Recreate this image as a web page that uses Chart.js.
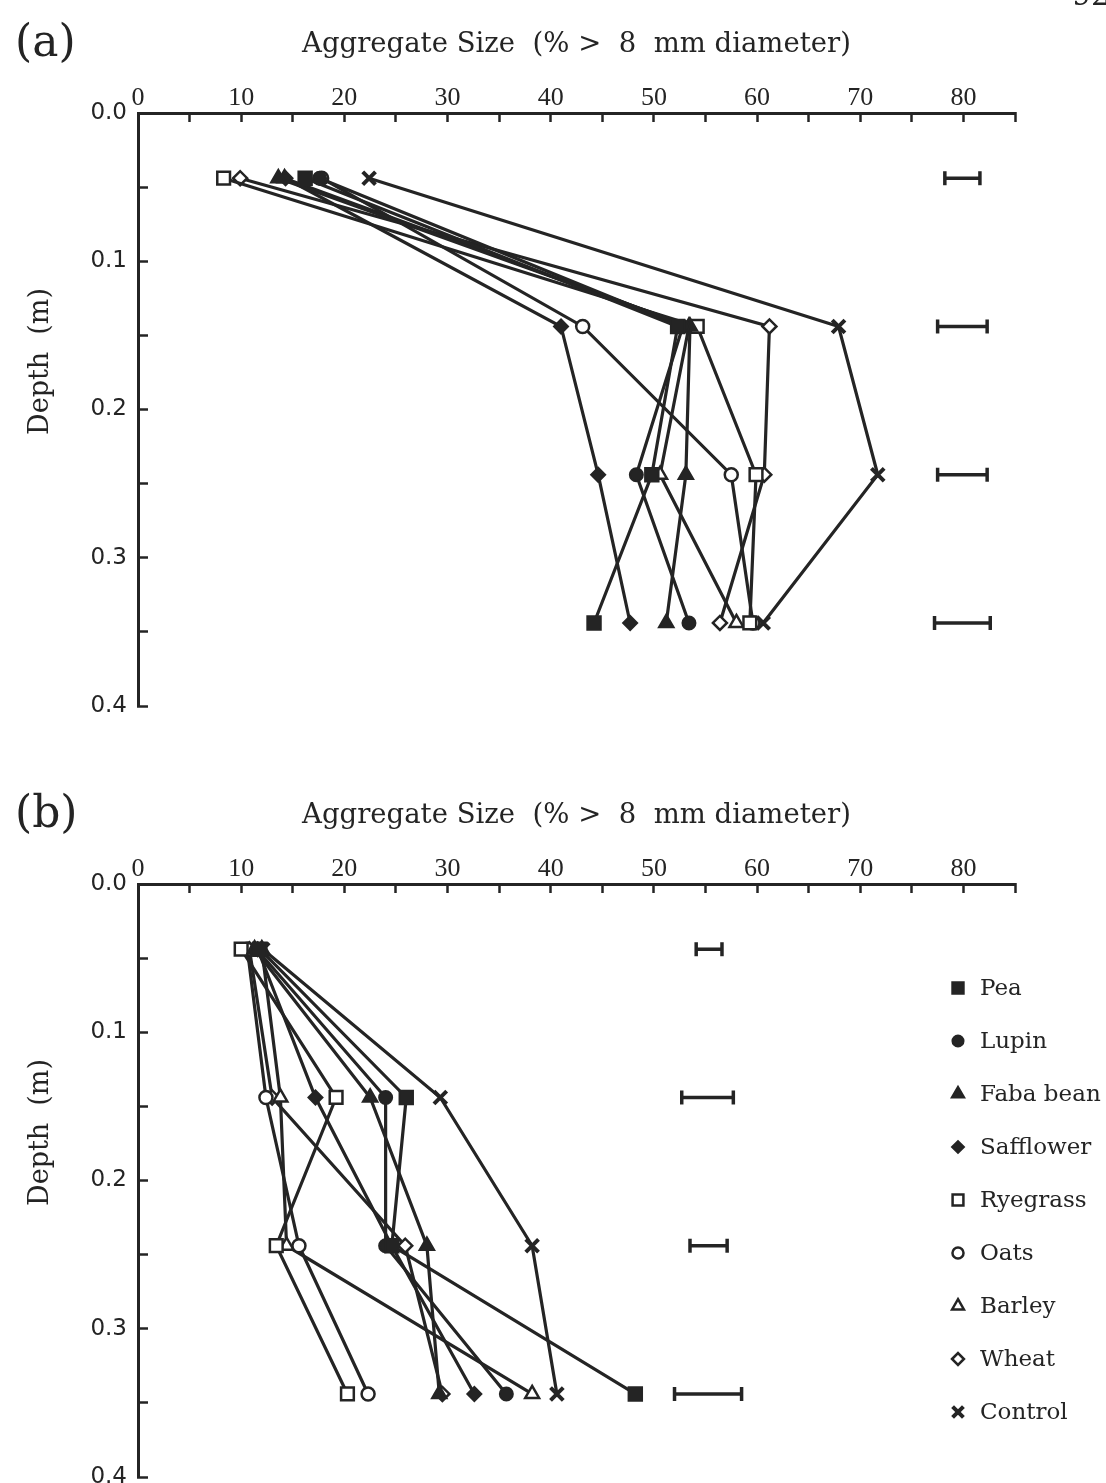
<!DOCTYPE html>
<html>
<head>
<meta charset="utf-8">
<script src="https://cdn.jsdelivr.net/npm/chart.js@4.4.0/dist/chart.umd.min.js"></script>
<style>
  html, body { margin: 0; padding: 0; background: #fff; }
  body { width: 1106px; height: 1483px; position: relative; overflow: hidden; }
  .panel { position: absolute; left: 0; width: 1106px; height: 741px; }
  #wrapA { top: 0; }
  #wrapB { top: 771px; }
</style>
</head>
<body>
<div class="panel" id="wrapA"><canvas id="chartA" width="1106" height="741"></canvas></div>
<div class="panel" id="wrapB"><canvas id="chartB" width="1106" height="741"></canvas></div>
<script>
// depth of each sampling layer (m)
const depths = [0.044, 0.144, 0.244, 0.344];
const crops = ['Pea', 'Lupin', 'Faba bean', 'Safflower', 'Ryegrass', 'Oats', 'Barley', 'Wheat', 'Control'];

// (a) aggregate size, % > 8 mm
const peaA       = [16.2, 52.3, 49.8, 44.2];
const lupinA     = [17.6, 52.8, 48.3, 53.4];
const fabaA      = [13.6, 53.5, 53.1, 51.2];
const safflowerA = [14.3, 41.0, 44.6, 47.7];
const ryegrassA  = [8.3, 54.2, 59.9, 59.3];
const oatsA      = [17.8, 43.1, 57.5, 59.6];
const barleyA    = [14.2, 53.4, 50.6, 58.0];
const wheatA     = [9.9, 61.2, 60.7, 56.4];
const controlA   = [22.4, 67.9, 71.7, 60.6];
const errLowA    = [78.2, 77.5, 77.5, 77.2];
const errHighA   = [81.6, 82.3, 82.3, 82.6];

// (b) aggregate size, % > 8 mm
const peaB       = [11.8, 26.0, 24.6, 48.2];
const lupinB     = [11.5, 24.0, 24.0, 35.7];
const fabaB      = [11.3, 22.5, 28.0, 29.2];
const safflowerB = [11.6, 17.2, 24.6, 32.6];
const ryegrassB  = [10.0, 19.2, 13.4, 20.3];
const oatsB      = [10.6, 12.4, 15.6, 22.3];
const barleyB    = [12.0, 13.8, 14.4, 38.2];
const wheatB     = [10.8, 13.0, 25.9, 29.5];
const controlB   = [12.1, 29.3, 38.2, 40.6];
const errLowB    = [54.1, 52.7, 53.5, 52.0];
const errHighB   = [56.6, 57.7, 57.1, 58.5];

const ink = '#242424';
const serif = "'DejaVu Serif', serif";

const markers = [
  { style: 'rect', r: 9.5, fill: true, bw: 2 },
  { style: 'circle', r: 6.5, fill: true, bw: 2 },
  { style: 'triangle', r: 8.5, fill: true, bw: 2 },
  { style: 'rectRot', r: 7, fill: true, bw: 2 },
  { style: 'rect', r: 9, fill: false, bw: 2.5 },
  { style: 'circle', r: 6.5, fill: false, bw: 2.5 },
  { style: 'triangle', r: 8, fill: false, bw: 2.5 },
  { style: 'rectRot', r: 7, fill: false, bw: 2.5 },
  { style: 'crossRot', r: 9, fill: true, bw: 4 }
];

// side legend, panel tags and the y title drawn on the canvas
const decorPlugin = {
  id: 'decor',
  afterDraw(chart, args, opts) {
    const ctx = chart.ctx;
    const area = chart.chartArea;
    ctx.save();
    ctx.fillStyle = ink;
    ctx.textBaseline = 'middle';
    ctx.font = '44px ' + serif;
    ctx.fillText(opts.tag, 15, 45);
    if (opts.page) {
      ctx.font = '30px ' + serif;
      ctx.fillText(opts.page, 1072, -3);
    }
    // y axis title
    ctx.save();
    ctx.translate(41, (area.top + area.bottom) / 2 - 48);
    ctx.rotate(-Math.PI / 2);
    ctx.textAlign = 'center';
    ctx.font = '27px ' + serif;
    ctx.fillText('Depth  (m)', 0, 0);
    ctx.restore();

    if (opts.legend) {
      chart.data.datasets.forEach((ds, i) => {
        if (ds.isErr) return;
        const y = 217 + i * 53;
        ctx.fillStyle = ds.pointBackgroundColor;
        ctx.strokeStyle = ds.pointBorderColor;
        ctx.lineWidth = ds.pointBorderWidth;
        Chart.helpers.drawPoint(ctx, {
          pointStyle: ds.pointStyle, radius: ds.pointRadius * 0.85,
          rotation: 0, borderWidth: ds.pointBorderWidth
        }, 958, y);
        ctx.fillStyle = ink;
        ctx.textAlign = 'left';
        ctx.font = '23px ' + serif;
        ctx.fillText(ds.label, 980, y + 1);
      });
    }
    ctx.restore();
  }
};

function makeChart(id, series, errLow, errHigh, tag, page, legend) {
  const datasets = crops.map((name, i) => ({
    label: name,
    data: depths.map((d, k) => ({ x: series[i][k], y: d })),
    showLine: true,
    borderColor: ink,
    borderWidth: 3.2,
    pointStyle: markers[i].style,
    pointRadius: markers[i].r,
    pointBackgroundColor: markers[i].fill ? ink : '#fff',
    pointBorderColor: ink,
    pointBorderWidth: markers[i].bw
  }));
  errLow.forEach((lo, k) => {
    datasets.push({
      label: 'lsd', isErr: true,
      data: [{ x: lo, y: depths[k] }, { x: errHigh[k], y: depths[k] }],
      showLine: true,
      borderColor: ink,
      borderWidth: 3.5,
      pointStyle: 'line',
      pointRotation: 90,
      pointRadius: 7,
      pointBorderColor: ink,
      pointBorderWidth: 3.5
    });
  });

  return new Chart(document.getElementById(id), {
    type: 'scatter',
    data: { datasets },
    plugins: [decorPlugin],
    options: {
      responsive: false,
      animation: false,
      events: [],
      layout: { padding: { left: 0, right: 91, top: 0, bottom: 35 } },
      plugins: {
        legend: { display: false },
        tooltip: { enabled: false },
        title: {
          display: true,
          fullSize: false,
          text: 'Aggregate Size  (% >  8  mm diameter)',
          color: ink,
          font: { family: serif, size: 27.5, weight: 'normal' },
          padding: { top: 28, bottom: 0 }
        },
        decor: { tag, page, legend }
      },
      scales: {
        x: {
          type: 'linear', position: 'top', min: 0, max: 85,
          ticks: {
            stepSize: 5, autoSkip: false, maxRotation: 0, padding: 8, color: ink,
            font: { family: "'Liberation Serif', serif", size: 26 },
            callback: v => (v % 10 === 0 ? String(v) : '')
          },
          grid: { drawOnChartArea: false, drawTicks: true, tickLength: -9, tickWidth: 2.5, tickColor: ink, color: ink },
          border: { display: true, color: ink, width: 3 },
          afterFit: s => { s.height = 52; }
        },
        y: {
          type: 'linear', position: 'left', reverse: true, min: 0, max: 0.4,
          ticks: {
            stepSize: 0.05, autoSkip: false, padding: 21, color: ink,
            font: { family: "'DejaVu Sans', sans-serif", size: 23 },
            callback: (v, i) => (i % 2 === 0 ? v.toFixed(1) : '')
          },
          grid: { drawOnChartArea: false, drawTicks: true, tickLength: -10, tickWidth: 2.5, tickColor: ink, color: ink },
          border: { display: true, color: ink, width: 3 },
          afterFit: s => { s.width = 138; }
        }
      }
    }
  });
}

makeChart('chartA',
  [peaA, lupinA, fabaA, safflowerA, ryegrassA, oatsA, barleyA, wheatA, controlA],
  errLowA, errHighA, '(a)', '92', false);
makeChart('chartB',
  [peaB, lupinB, fabaB, safflowerB, ryegrassB, oatsB, barleyB, wheatB, controlB],
  errLowB, errHighB, '(b)', null, true);
</script>
</body>
</html>
